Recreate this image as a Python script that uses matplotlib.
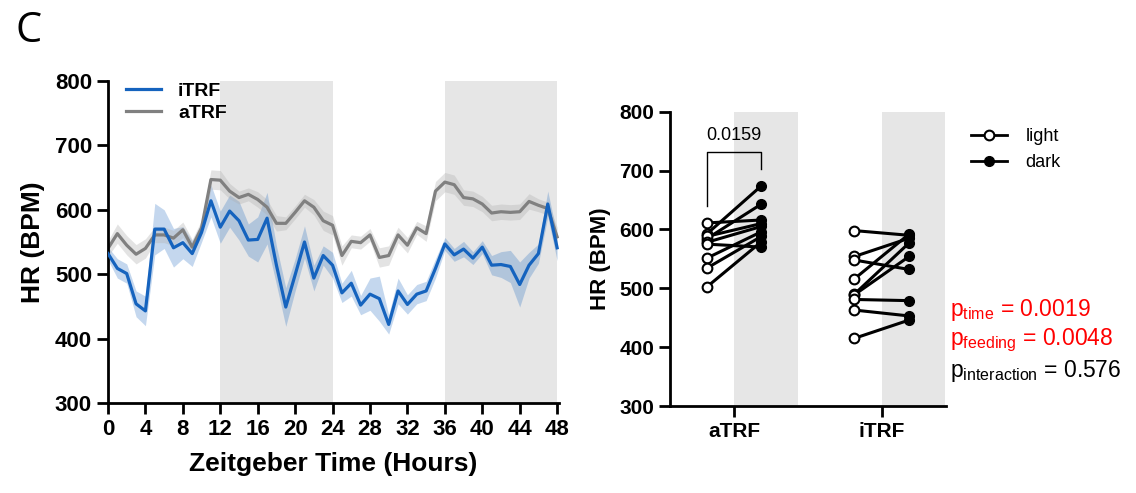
import numpy as np
import matplotlib
matplotlib.use("Agg")
from matplotlib import pyplot as plt
from matplotlib.lines import Line2D

plt.rcParams['font.family'] = ['Liberation Sans', 'DejaVu Sans']
plt.rcParams['mathtext.default'] = 'regular'

# Hourly heart rate, ZT 0..48
hours = np.arange(49)
itrf_mean = [532, 509, 501, 454, 443, 570, 570, 541, 549, 532, 565, 614,
             573, 598, 583, 553, 554, 587, 514, 449, 499, 550, 494, 529,
             514, 471, 486, 452, 469, 462, 422, 474, 453, 469, 474, 509,
             547, 530, 539, 525, 542, 514, 515, 512, 484, 514, 532, 609, 541]
itrf_sem = [10, 15, 15, 20, 23, 40, 30, 30, 25, 20, 15, 25,
            25, 25, 30, 25, 35, 40, 30, 30, 25, 25, 20, 15,
            20, 15, 20, 15, 25, 35, 15, 20, 15, 15, 15, 15,
            10, 10, 12, 10, 10, 15, 20, 25, 35, 20, 15, 20, 20]
atrf_mean = [540, 563, 545, 531, 540, 561, 561, 556, 569, 542, 572, 647,
             646, 629, 619, 624, 616, 604, 579, 579, 596, 614, 604, 583,
             576, 529, 551, 549, 561, 526, 529, 561, 545, 572, 563, 629,
             643, 639, 619, 617, 609, 595, 597, 596, 597, 613, 607, 602, 558]
atrf_sem = [12, 15, 15, 15, 15, 12, 12, 12, 12, 12, 12, 15,
            15, 12, 10, 10, 12, 12, 12, 10, 10, 10, 12, 15,
            15, 15, 10, 10, 10, 15, 15, 12, 12, 10, 12, 15,
            15, 15, 12, 12, 12, 12, 12, 12, 12, 12, 10, 10, 15]
dark_phases = [(12, 24), (36, 48)]

# Per-mouse light / dark averages
groups = ['aTRF', 'iTRF']
atrf_light = [611, 592, 584, 588, 578, 575, 551, 534, 502]
atrf_dark = [616, 674, 643, 610, 605, 570, 596, 588, 579]
itrf_light = [598, 554, 548, 516, 490, 489, 481, 463, 415]
itrf_dark = [590, 585, 532, 592, 577, 554, 479, 453, 446]
p_bracket = '0.0159'

blue = '#1563be'
gray = '#808080'
shade = '#e6e6e6'

fig = plt.figure(figsize=(11.36, 4.93), dpi=100)

# ---- left panel: time course ----
ax = fig.add_axes([108 / 1136, 1 - 403 / 493, 451 / 1136, 322 / 493])
for start, end in dark_phases:
    ax.axvspan(start, end, color=shade, lw=0, zorder=0)
lo = np.array(itrf_mean) - np.array(itrf_sem)
hi = np.array(itrf_mean) + np.array(itrf_sem)
ax.fill_between(hours, lo, hi, color=blue, alpha=0.25, lw=0, zorder=1)
lo = np.array(atrf_mean) - np.array(atrf_sem)
hi = np.array(atrf_mean) + np.array(atrf_sem)
ax.fill_between(hours, lo, hi, color='#b0b0b0', alpha=0.35, lw=0, zorder=1)
ax.plot(hours, itrf_mean, color=blue, lw=2.3, label='iTRF', zorder=3)
ax.plot(hours, atrf_mean, color=gray, lw=2.3, label='aTRF', zorder=2)

ax.set_xlim(0, 48.2)
ax.set_ylim(300, 800)
ax.set_xticks(np.arange(0, 49, 4))
ax.set_yticks(np.arange(300, 801, 100))
ax.spines[['top', 'right']].set_visible(False)
ax.spines[['left', 'bottom']].set_linewidth(2)
ax.tick_params(width=2, length=8, labelsize=16)
for lab in ax.get_xticklabels() + ax.get_yticklabels():
    lab.set_fontweight('bold')
ax.set_xlabel('Zeitgeber Time (Hours)', fontsize=19, fontweight='bold', labelpad=9)
ax.set_ylabel('HR (BPM)', fontsize=19, fontweight='bold', labelpad=7)
ax.legend(loc='upper left', bbox_to_anchor=(0.0, 1.05), frameon=False,
          prop={'size': 14, 'weight': 'bold'}, handlelength=1.8,
          handletextpad=0.9, labelspacing=0.2)

# ---- right panel: light vs dark ----
ax2 = fig.add_axes([670 / 1136, 1 - 406 / 493, 276 / 1136, 294.3 / 493])
off = 0.185
for i, (light, dark) in enumerate([(atrf_light, atrf_dark), (itrf_light, itrf_dark)]):
    c = i + 1
    ax2.axvspan(c, c + 0.43, color=shade, lw=0, zorder=0)
    for a, b in zip(light, dark):
        ax2.plot([c - off, c + off], [a, b], color='black', lw=2.2, zorder=2)
    ax2.plot([c - off] * len(light), light, 'o', ms=7, mfc='white', mec='black', mew=1.5, zorder=3)
    ax2.plot([c + off] * len(dark), dark, 'o', ms=7, mfc='black', mec='black', zorder=3)

ax2.plot([1 - off, 1 - off, 1 + off, 1 + off], [640, 732, 732, 702], color='black', lw=1)
ax2.text(1, 745, p_bracket, ha='center', va='bottom', fontsize=13)

ax2.set_xlim(0.567, 2.435)
ax2.set_ylim(300, 800)
ax2.set_xticks([1, 2])
ax2.set_xticklabels(groups)
ax2.set_yticks(np.arange(300, 801, 100))
ax2.spines[['top', 'right']].set_visible(False)
ax2.spines[['left', 'bottom']].set_linewidth(2)
ax2.tick_params(width=2, length=8, labelsize=15)
for lab in ax2.get_xticklabels() + ax2.get_yticklabels():
    lab.set_fontweight('bold')
ax2.set_ylabel('HR (BPM)', fontsize=16, fontweight='bold', labelpad=6)

handles = [Line2D([], [], color='black', lw=2, marker='o', ms=7, mfc='white', mew=1.5),
           Line2D([], [], color='black', lw=2, marker='o', ms=7, mfc='black')]
fig.legend(handles, ['light', 'dark'], loc='upper left', bbox_to_anchor=(955 / 1136, 1 - 112 / 493),
           frameon=False, fontsize=13, handlelength=2.0, handletextpad=1.0, labelspacing=0.5)

fig.text(950 / 1136, 1 - 316 / 493, '$p_{time}$ = 0.0019', color='red', fontsize=16.5, va='baseline')
fig.text(950 / 1136, 1 - 345 / 493, '$p_{feeding}$ = 0.0048', color='red', fontsize=16.5, va='baseline')
fig.text(950 / 1136, 1 - 377 / 493, '$p_{interaction}$ = 0.576', color='black', fontsize=16.5, va='baseline')

fig.text(16 / 1136, 1 - 10 / 493, 'C', fontsize=30, va='top', ha='left', family='Open Sans')

fig.savefig('out.png', dpi=100)
